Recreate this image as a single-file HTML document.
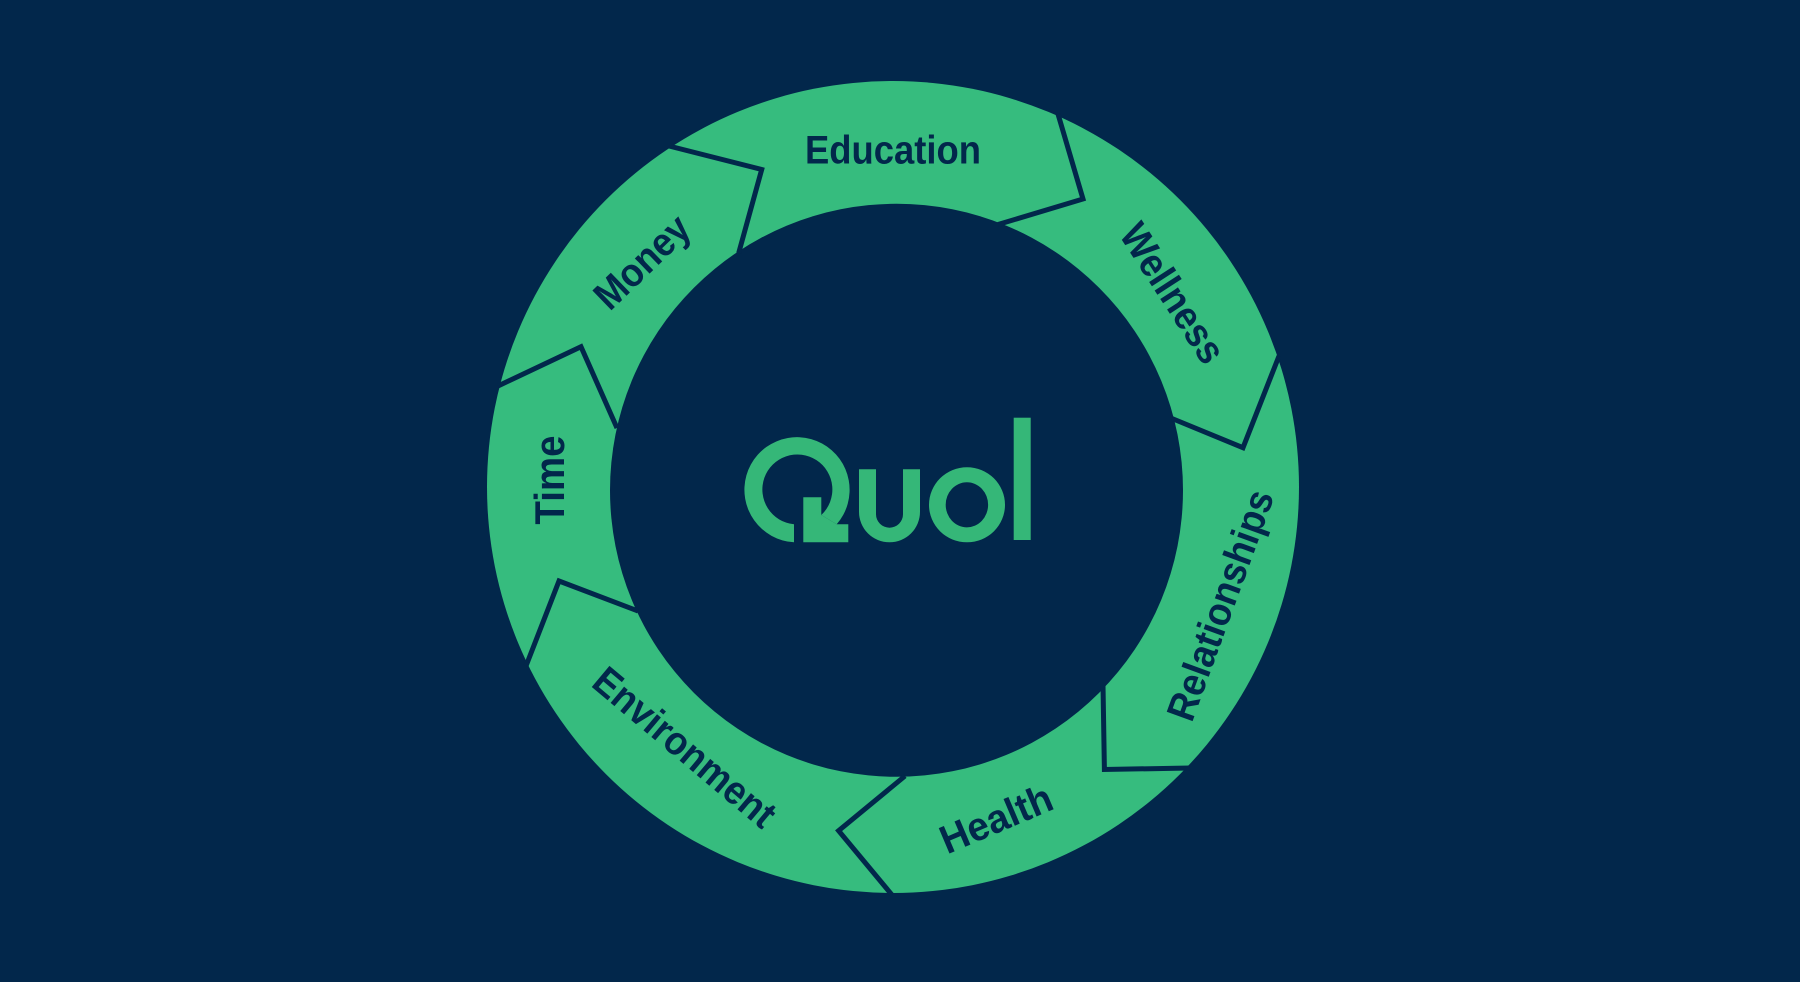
<!DOCTYPE html>
<html><head><meta charset="utf-8"><style>
html,body{margin:0;padding:0;background:#02274b}
svg{display:block}
text{font-family:"Liberation Sans",sans-serif;font-weight:700;fill:#02274b;font-size:40px;text-anchor:middle}
</style></head><body>
<svg width="1800" height="982" viewBox="0 0 1800 982" xmlns="http://www.w3.org/2000/svg">
<rect width="1800" height="982" fill="#02274b"/>
<circle cx="893" cy="487" r="406" fill="#36bc7e"/>
<circle cx="896.5" cy="490.3" r="286.5" fill="#02274b"/>
<g fill="none" stroke="#02274b" stroke-width="5" stroke-linejoin="miter">
<polyline points="669,146 761.7,169.5 738.7,253"/>
<polyline points="1058,114 1083,199 998,224.5"/>
<polyline points="1279,356 1243,447.7 1172,418.5"/>
<polyline points="498,386 581,346.7 617,428"/>
<polyline points="526,666 559,581 638,611"/>
<polyline points="892,895 838.6,830.7 905,776"/>
<polyline points="1190,768 1104.4,769.5 1103,685"/>
</g>
<text x="893" y="163.5" textLength="176" lengthAdjust="spacingAndGlyphs">Education</text>
<text transform="translate(641.7,261.7) rotate(-44)" y="14" textLength="116" lengthAdjust="spacingAndGlyphs">Money</text>
<text transform="translate(1173,293) rotate(57)" y="14" textLength="158" lengthAdjust="spacingAndGlyphs">Wellness</text>
<text transform="translate(1220,605) rotate(-70)" y="14" textLength="242" lengthAdjust="spacingAndGlyphs">Relationships</text>
<text transform="translate(996,818.5) rotate(-23)" y="14" textLength="118" lengthAdjust="spacingAndGlyphs">Health</text>
<text transform="translate(685,747) rotate(40)" y="14" textLength="225" lengthAdjust="spacingAndGlyphs">Environment</text>
<text transform="translate(548,480) rotate(-90)" y="16" style="font-size:42px" textLength="89" lengthAdjust="spacingAndGlyphs">Time</text>
<g fill="#35b778">
<path d="M794,542.3A52.6,52.6 0 1 1 836.7,524.3L821.3,515A35,35 0 1 0 794,524.3Z"/>
<polygon points="803.3,497.3 821.3,497.3 821.3,515 836.7,524.3 848.3,524.3 848.3,542.3 803.3,542.3"/>
<path d="M859,469.3H876V514.2A13.5,13.5 0 0 0 903,514.2V469.3H920V511.8A30.5,30.5 0 0 1 859,511.8Z"/>
<path fill-rule="evenodd" d="M929,504.8A38,37.5 0 1 1 1005,504.8A38,37.5 0 1 1 929,504.8ZM945.7,504.8A21.2,22.5 0 1 0 988.1,504.8A21.2,22.5 0 1 0 945.7,504.8Z"/>
<rect x="1013.7" y="417.7" width="17" height="122.3"/>
</g>
</svg>
</body></html>
